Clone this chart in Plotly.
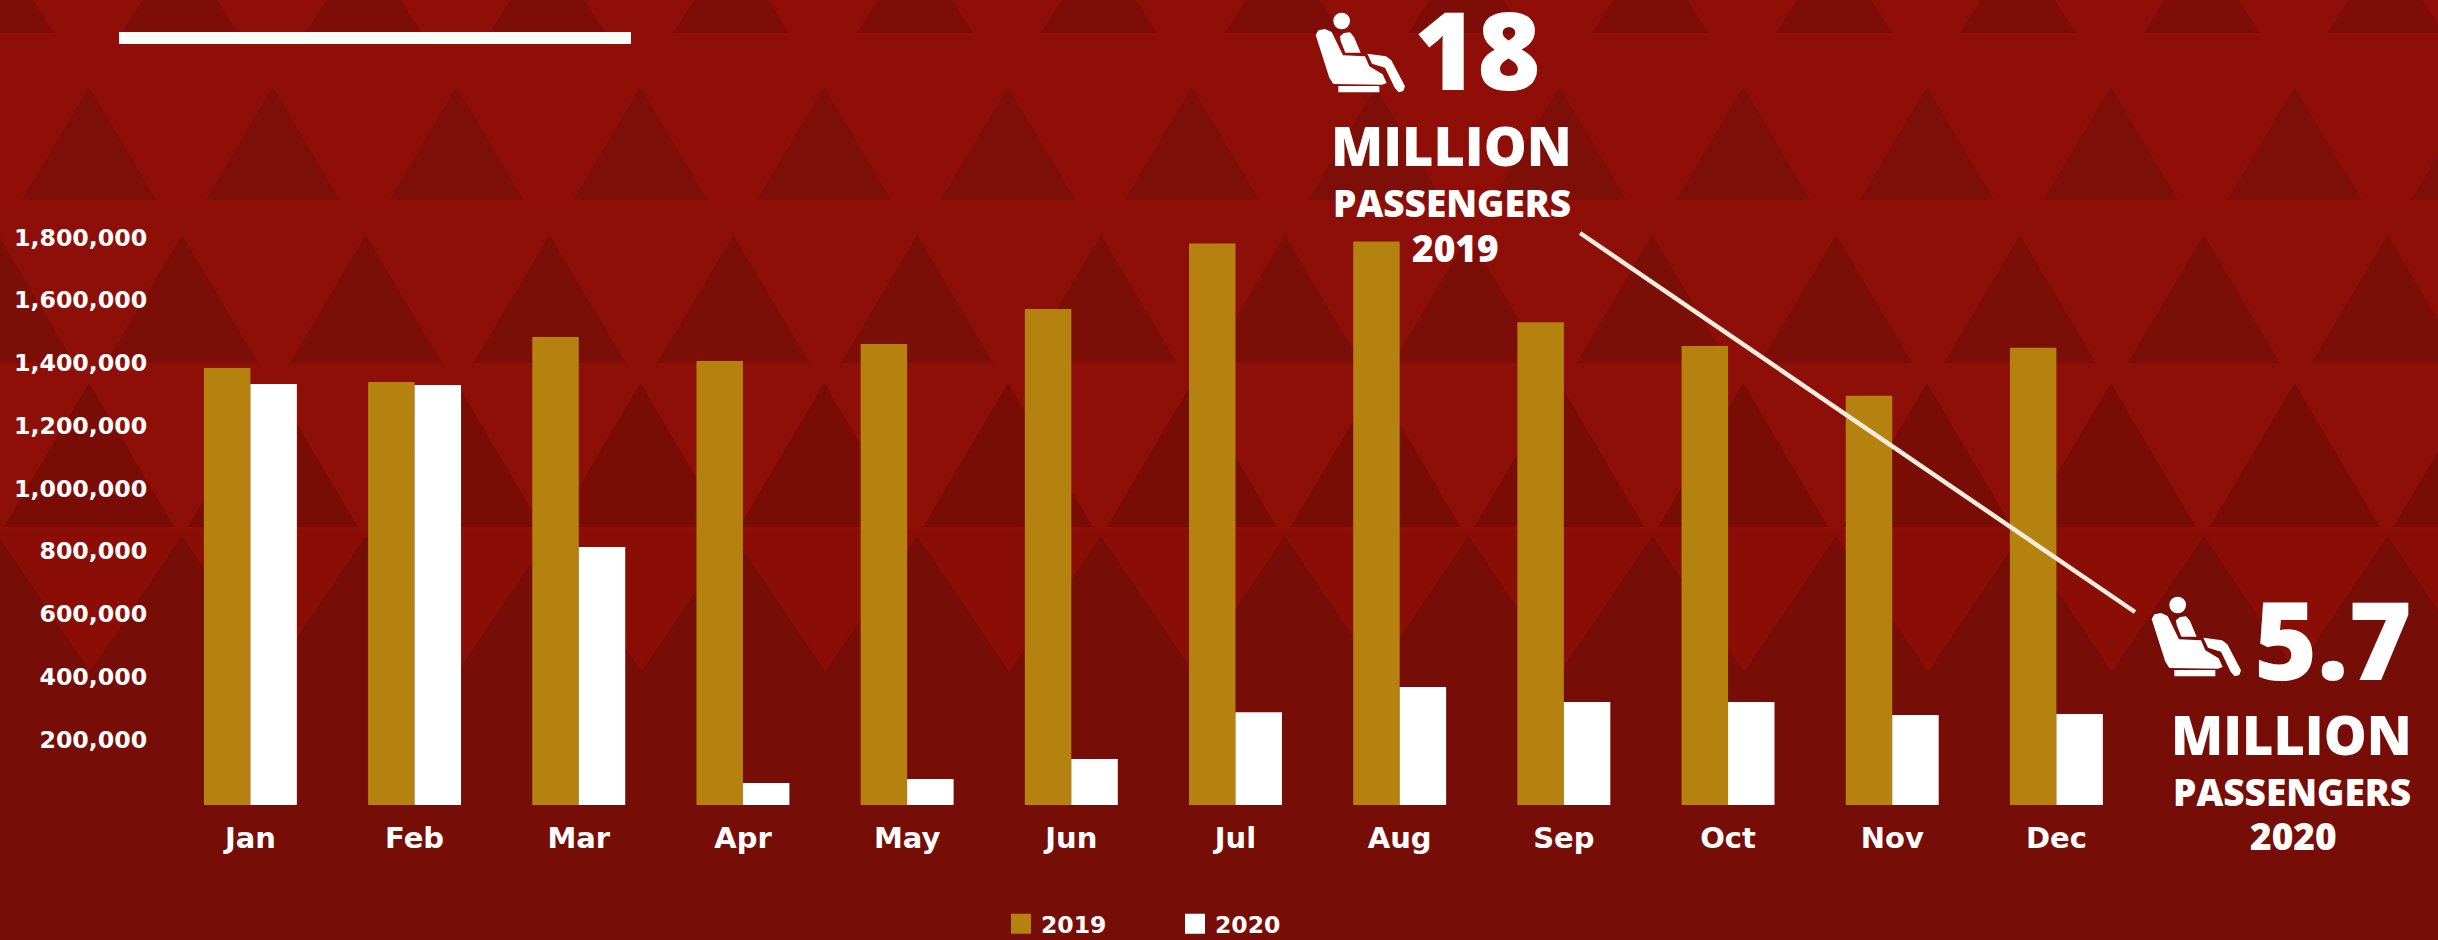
import plotly.graph_objects as go

months = ["Jan", "Feb", "Mar", "Apr", "May", "Jun", "Jul", "Aug", "Sep", "Oct", "Nov", "Dec"]
passengers_2019 = [1393000, 1348000, 1492000, 1415000, 1469000, 1581000, 1790000, 1796000, 1539000, 1463000, 1304000, 1457000]
passengers_2020 = [1342000, 1339000, 822000, 70000, 83000, 147000, 296000, 376000, 328000, 328000, 287000, 290000]
y_ticks = [200000, 400000, 600000, 800000, 1000000, 1200000, 1400000, 1600000, 1800000]
series_names = ["2019", "2020"]

W, H = 2438, 940
GOLD = "#b5820f"
WHITE = "#ffffff"
FONT_AXIS = "DejaVu Sans"
FONT_BIG = "Open Sans"


def px(x):
    return x / W


def py(y):
    return 1 - y / H


def rect(x0, y0, x1, y1, color, layer="below"):
    return dict(type="rect", xref="paper", yref="paper", x0=px(x0), x1=px(x1), y0=py(y0), y1=py(y1),
                fillcolor=color, line_width=0, layer=layer)


def triangle_row(x_start, apex, base, half, color, period=183.8):
    parts = []
    x = x_start
    while x - half < W:
        parts.append(f"M{px(x - half)},{py(base)}L{px(x)},{py(apex)}L{px(x + half)},{py(base)}Z")
        x += period
    return dict(type="path", xref="paper", yref="paper", path="".join(parts),
                fillcolor=color, line_width=0, layer="below")


def seat_icon(x0, y0):
    """Seat pictogram; outline points are in a 3x grid relative to the top-left corner."""
    s = 1 / 3
    ox, oy = 195, 38

    def pt(a, b):
        return f"{px(x0 + (a - ox) * s)},{py(y0 + (b - oy) * s)}"

    def poly(points):
        return "M" + "L".join(pt(a, b) for a, b in points) + "Z"

    torso = [(282, 98), (300, 96), (312, 110), (332, 157), (286, 157), (272, 122), (270, 108)]
    seat = [(197, 104), (205, 90), (225, 86), (245, 95), (279, 165), (345, 168), (358, 198), (398, 222),
            (410, 248), (396, 253), (250, 251), (238, 232)]
    leg = [(352, 160), (408, 168), (424, 180), (465, 258), (460, 272), (446, 276), (434, 262), (405, 202), (366, 190)]
    base = [(265, 257), (388, 257), (388, 276), (265, 276)]
    r = 25 * s
    cx, cy = x0 + (275 - ox) * s, y0 + (62 - oy) * s
    return [
        dict(type="path", xref="paper", yref="paper",
             path=poly(torso) + poly(seat) + poly(leg) + poly(base),
             fillcolor=WHITE, line_width=0, layer="above"),
        dict(type="circle", xref="paper", yref="paper", x0=px(cx - r), x1=px(cx + r), y0=py(cy + r), y1=py(cy - r),
             fillcolor=WHITE, line_width=0, layer="above"),
    ]


def label(text, x, y, size):
    return dict(text=text, xref="paper", yref="paper", x=px(x), y=py(y), xanchor="center", yanchor="middle",
                showarrow=False, font=dict(family=FONT_BIG, size=size, color=WHITE, weight=800))


shapes = [
    rect(0, 0, W, 210, "#8f0e08"),
    rect(0, 210, W, 530, "#8d0f08"),
    rect(0, 530, W, 672, "#8a0e06"),
    rect(0, 672, W, H, "#760d06"),
    triangle_row(-4, -58, 33, 58, "#7f0d07"),
    triangle_row(89, 87, 200, 67, "#7e0e08"),
    triangle_row(-1.8, 235, 363, 76, "#7c0e08"),
    triangle_row(89, 383, 527, 85, "#7a0c06"),
    triangle_row(-1.8, 536, 672, 92, "#760d06"),
    rect(119, 32, 631, 44, "#fbfbf8"),
    dict(type="line", xref="paper", yref="paper", x0=px(1580), y0=py(233), x1=px(2135), y1=py(612),
         line=dict(color="#f2ecdc", width=4.5), layer="above"),
]
shapes += seat_icon(1315, 13)
shapes += seat_icon(2151, 597)

annotations = [
    label("18", 1478, 49, 108),
    label("MILLION", 1451, 145, 54),
    label("PASSENGERS", 1452, 203, 37),
    label("2019", 1455, 247, 37),
    label("5.7", 2333, 638, 108),
    label("MILLION", 2291, 734, 54),
    label("PASSENGERS", 2292, 791, 37),
    label("2020", 2293, 835, 37),
]

fig = go.Figure()
fig.add_bar(x=months, y=passengers_2019, name=series_names[0], marker=dict(color=GOLD, line_width=0), showlegend=False)
fig.add_bar(x=months, y=passengers_2020, name=series_names[1], marker=dict(color=WHITE, line_width=0), showlegend=False)
for name, color in zip(series_names, [GOLD, WHITE]):
    fig.add_scatter(x=[None], y=[None], mode="markers", name=name,
                    marker=dict(symbol="square", size=16, color=color, line=dict(color=color, width=4)))

fig.update_layout(
    width=W, height=H, autosize=False,
    margin=dict(l=0, r=0, t=0, b=0, autoexpand=False),
    paper_bgcolor="#760d06", plot_bgcolor="rgba(0,0,0,0)",
    barmode="group", bargap=0.434, bargroupgap=0,
    shapes=shapes, annotations=annotations,
    showlegend=True,
    legend=dict(orientation="h", x=px(1001), y=py(924), xanchor="left", yanchor="middle",
                bgcolor="rgba(0,0,0,0)", font=dict(family=FONT_AXIS, size=23.5, color=WHITE, weight=700),
                itemwidth=30, entrywidth=129, entrywidthmode="pixels", tracegroupgap=0),
    xaxis=dict(domain=[px(168.3), px(2138.5)], type="category", categoryorder="array", categoryarray=months,
               showgrid=False, zeroline=False, showline=False, ticks="", ticklabelstandoff=13,
               tickfont=dict(family=FONT_AXIS, size=29, color=WHITE, weight=700)),
    yaxis=dict(domain=[py(805), py(205.1)], range=[0, 1912000], showgrid=False, zeroline=False, showline=False,
               ticks="", tickvals=y_ticks, tickformat=",d", ticklabelstandoff=20, ticklabelshift=-3,
               tickfont=dict(family=FONT_AXIS, size=23.7, color=WHITE, weight=700)),
)

fig.write_html("out.html", config={"displayModeBar": False},
               post_script="document.body.style.margin='0';document.documentElement.style.overflow='hidden';")
